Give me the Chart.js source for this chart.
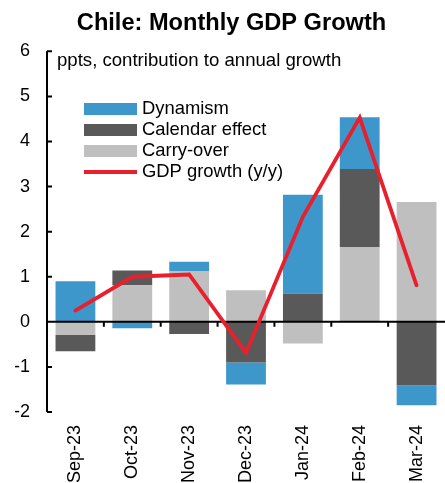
<!DOCTYPE html>
<html>
<head>
<meta charset="utf-8">
<script src="https://cdn.jsdelivr.net/npm/chart.js@4/dist/chart.umd.min.js"></script>
<style>
    html, body { margin: 0; padding: 0; background: #fff; }
    #wrap { width: 445px; height: 483px; position: relative; }
</style>
</head>
<body>
<div id="wrap"><canvas id="gdp-chart"></canvas></div>
<script>
// ---- Data ---------------------------------------------------------------

const MONTHS = ['Sep-23', 'Oct-23', 'Nov-23', 'Dec-23', 'Jan-24', 'Feb-24', 'Mar-24'];
const CARRY_OVER = [-0.29, 0.81, 1.13, 0.70, -0.48, 1.66, 2.66];
const CALENDAR = [-0.36, 0.33, -0.27, -0.90, 0.63, 1.73, -1.41];
const DYNAMISM = [0.90, -0.14, 0.20, -0.49, 2.19, 1.15, -0.44];
const GDP_YY = [0.25, 1.00, 1.05, -0.69, 2.33, 4.53, 0.81];
const Y_TICKS = [-2, -1, 0, 1, 2, 3, 4, 5, 6];

const TITLE = 'Chile: Monthly GDP Growth';
const NOTE = 'ppts, contribution to annual growth';

const COLORS = {
    dynamism: '#3d97cb',
    calendar: '#595959',
    carry: '#bfbfbf',
    gdp: '#e8202e',
};
const FONT = 'Arial, "Liberation Sans", sans-serif';

// ---- Plugins ------------------------------------------------------------

// Axis line with inward ticks, zero line with small category ticks.
const axisLines = {
    id: 'axisLines',
    beforeDatasetDraw(chart, args) {
        if (args.index !== 3) return;
        const { ctx, chartArea: a, scales: { x, y } } = chart;
        const y0 = y.getPixelForValue(0);
        ctx.save();
        ctx.strokeStyle = '#000';
        ctx.lineWidth = 2;
        ctx.beginPath();
        ctx.moveTo(a.left, y.getPixelForValue(Y_TICKS[Y_TICKS.length - 1]));
        ctx.lineTo(a.left, y.getPixelForValue(Y_TICKS[0]));
        for (const v of Y_TICKS) {
            const py = y.getPixelForValue(v);
            ctx.moveTo(a.left, py);
            ctx.lineTo(a.left + 5, py);
        }
        ctx.moveTo(a.left, y0);
        ctx.lineTo(a.right, y0);
        for (let i = 1; i < MONTHS.length; i++) {
            const px = (x.getPixelForValue(i - 1) + x.getPixelForValue(i)) / 2;
            ctx.moveTo(px, y0);
            ctx.lineTo(px, y0 + 5);
        }
        ctx.stroke();
        ctx.restore();
    },
};

// Legend + note drawn inside the plot area, like the original.
const insideLegend = {
    id: 'insideLegend',
    afterDatasetsDraw(chart) {
        const { ctx } = chart;
        ctx.save();
        ctx.fillStyle = '#000';
        ctx.textBaseline = 'middle';
        ctx.font = `18.6px ${FONT}`;
        ctx.fillText(NOTE, 57, 61);

        const items = [
            { label: 'Dynamism', color: COLORS.dynamism, y: 109 },
            { label: 'Calendar effect', color: COLORS.calendar, y: 130 },
            { label: 'Carry-over', color: COLORS.carry, y: 151 },
            { label: 'GDP growth (y/y)', color: COLORS.gdp, y: 172, line: true },
        ];
        ctx.font = `18.4px ${FONT}`;
        for (const it of items) {
            if (it.line) {
                ctx.strokeStyle = it.color;
                ctx.lineWidth = 4;
                ctx.beginPath();
                ctx.moveTo(84, it.y);
                ctx.lineTo(137, it.y);
                ctx.stroke();
            } else {
                ctx.fillStyle = it.color;
                ctx.fillRect(84, it.y - 6, 53, 12);
            }
            ctx.fillStyle = '#000';
            ctx.fillText(it.label, 142, it.y);
        }
        ctx.restore();
    },
};

// ---- Chart --------------------------------------------------------------

const ctx = document.getElementById('gdp-chart').getContext('2d');

new Chart(ctx, {
    data: {
        labels: MONTHS,
        datasets: [
            { type: 'bar', label: 'Carry-over', data: CARRY_OVER, backgroundColor: COLORS.carry },
            { type: 'bar', label: 'Calendar effect', data: CALENDAR, backgroundColor: COLORS.calendar },
            { type: 'bar', label: 'Dynamism', data: DYNAMISM, backgroundColor: COLORS.dynamism },
            {
                type: 'line',
                label: 'GDP growth (y/y)',
                data: GDP_YY,
                borderColor: COLORS.gdp,
                borderWidth: 3.8,
                pointRadius: 0,
                tension: 0,
                borderCapStyle: 'round',
                order: -1,
            },
        ],
    },
    options: {
        responsive: true,
        maintainAspectRatio: false,
        animation: false,
        layout: { padding: { left: 15, right: -3, top: 0, bottom: 0 } },
        datasets: {
            bar: { categoryPercentage: 1, barPercentage: 0.7, borderWidth: 0 },
        },
        plugins: {
            legend: { display: false },
            tooltip: { enabled: false },
            title: {
                display: true,
                text: TITLE,
                color: '#000',
                font: { family: FONT, size: 23.6, weight: 'bold', lineHeight: 1.2 },
                padding: { top: 9, bottom: 14 },
            },
        },
        scales: {
            x: {
                stacked: true,
                grid: { display: false, drawTicks: false },
                border: { display: false },
                ticks: {
                    color: '#000',
                    font: { family: FONT, size: 18 },
                    minRotation: 90,
                    maxRotation: 90,
                    padding: 13,
                },
                afterFit(scale) {
                    scale.height = 71;
                    scale.paddingLeft = 0;
                    scale.paddingRight = 0;
                },
            },
            y: {
                stacked: true,
                min: -2,
                max: 6,
                grid: { display: false, drawTicks: false },
                border: { display: false },
                ticks: {
                    stepSize: 1,
                    color: '#000',
                    font: { family: FONT, size: 18 },
                    padding: 17,
                },
                afterFit(scale) {
                    scale.width = 32;
                    scale.paddingTop = 0;
                    scale.paddingBottom = 0;
                },
            },
        },
    },
    plugins: [axisLines, insideLegend],
});
</script>
</body>
</html>
